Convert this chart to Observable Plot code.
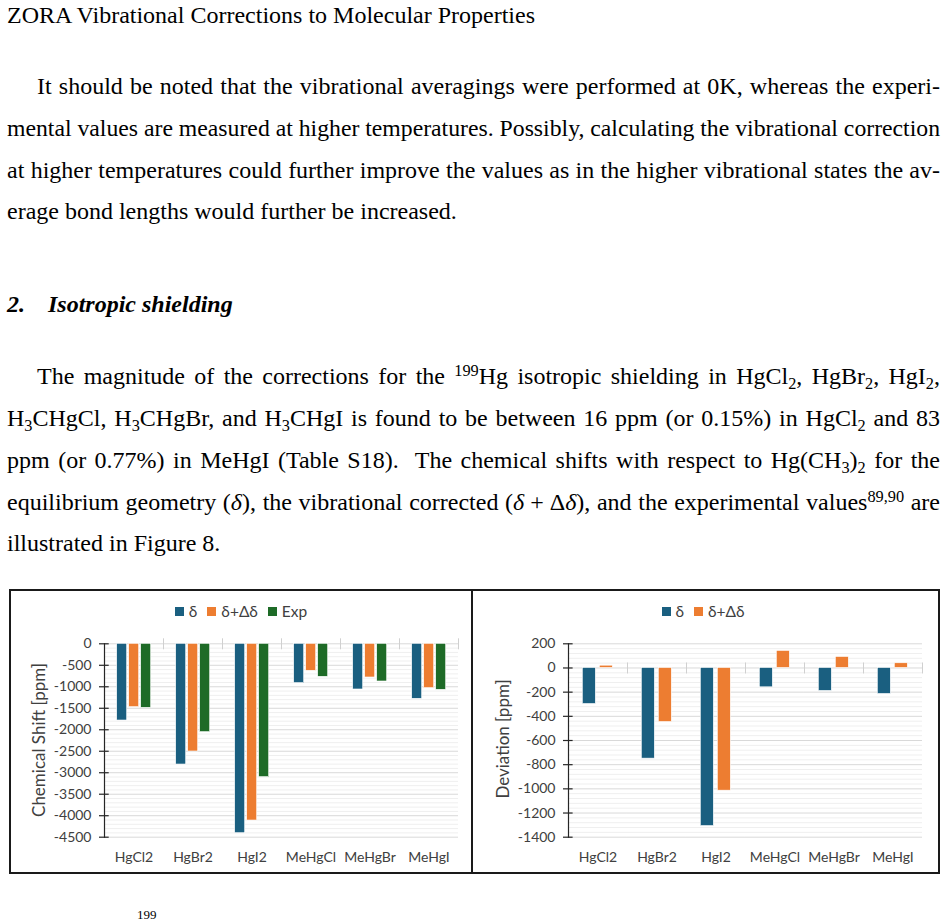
<!DOCTYPE html>
<html><head><meta charset="utf-8">
<script src="https://cdn.jsdelivr.net/npm/d3@7"></script>
<script src="https://cdn.jsdelivr.net/npm/@observablehq/plot@0.6"></script>
<style>
html,body{margin:0;padding:0;background:#fff;}
body{width:946px;height:924px;position:relative;overflow:hidden;font-family:"Liberation Serif","Times New Roman",serif;color:#000;}
.ln{position:absolute;font-size:24px;line-height:42px;white-space:nowrap;}
.ln .t{white-space:nowrap;}
sub,sup{font-size:0.68em;line-height:0;position:relative;vertical-align:baseline;}
sup{top:-0.5em;} sub{top:0.28em;}
.box{position:absolute;border:2px solid #1a1a1a;}
.div{position:absolute;background:#1a1a1a;}
.legend{position:absolute;display:flex;justify-content:center;align-items:center;font-family:Lato,"Open Sans",sans-serif;font-size:15.5px;color:#404040;}
.legend .sw{display:inline-block;width:9px;height:9px;margin-right:5px;}
.legend .it{display:flex;align-items:center;margin:0 5px;}
.ytitle{position:absolute;font-family:Lato,"Open Sans",sans-serif;font-size:17px;color:#404040;white-space:nowrap;transform:translate(-50%,-50%) rotate(-90deg);}
.chart{position:absolute;}
</style></head>
<body>
<div class="ln" style="left:7px;top:-6px;width:933px"><span class="t">ZORA Vibrational Corrections to Molecular Properties</span></div>

<div class="ln j" style="left:37px;top:65px;width:903px"><span class="t">It should be noted that the vibrational averagings were performed at 0K, whereas the experi-</span></div>
<div class="ln j" style="left:7px;top:107px;width:933px"><span class="t">mental values are measured at higher temperatures. Possibly, calculating the vibrational correction</span></div>
<div class="ln j" style="left:7px;top:149px;width:933px"><span class="t">at higher temperatures could further improve the values as in the higher vibrational states the av-</span></div>
<div class="ln" style="left:7px;top:190px;width:933px"><span class="t">erage bond lengths would further be increased.</span></div>

<div class="ln" style="left:7px;top:283px;width:933px;font-weight:bold;font-style:italic"><span class="t">2.</span></div>
<div class="ln" style="left:48px;top:283px;width:600px;font-weight:bold;font-style:italic"><span class="t">Isotropic shielding</span></div>

<div class="ln j" style="left:37px;top:355px;width:903px"><span class="t">The magnitude of the corrections for the <sup>199</sup>Hg isotropic shielding in HgCl<sub>2</sub>, HgBr<sub>2</sub>, HgI<sub>2</sub>,</span></div>
<div class="ln j" style="left:7px;top:397px;width:933px"><span class="t">H<sub>3</sub>CHgCl, H<sub>3</sub>CHgBr, and H<sub>3</sub>CHgI is found to be between 16 ppm (or 0.15%) in HgCl<sub>2</sub> and 83</span></div>
<div class="ln j" style="left:7px;top:439px;width:933px"><span class="t">ppm (or 0.77%) in MeHgI (Table S18).&#8196; The chemical shifts with respect to Hg(CH<sub>3</sub>)<sub>2</sub> for the</span></div>
<div class="ln j" style="left:7px;top:481px;width:933px"><span class="t">equilibrium geometry (<i>δ</i>), the vibrational corrected (<i>δ</i>&#8197;+&#8197;Δ<i>δ</i>), and the experimental values<sup>89,90</sup> are</span></div>
<div class="ln" style="left:7px;top:522px;width:933px"><span class="t">illustrated in Figure 8.</span></div>

<div class="box" style="left:9px;top:589px;width:927px;height:281px"></div>
<div class="div" style="left:471px;top:590px;width:2px;height:283px"></div>

<div id="legL" class="legend" style="left:10px;top:602px;width:462px;height:18px"></div>
<div id="legR" class="legend" style="left:472px;top:602px;width:462px;height:18px"></div>
<div class="ytitle" style="left:38px;top:740px">Chemical Shift [ppm]</div>
<div class="ytitle" style="left:502px;top:739px">Deviation [ppm]</div>
<div id="chartL" class="chart" style="left:10px;top:600px"></div>
<div id="chartR" class="chart" style="left:472px;top:600px"></div>

<div style="position:absolute;left:137px;top:908px;font-size:13px;line-height:14px">199</div>

<script>
// ---- data ----
const categories = ["HgCl2", "HgBr2", "HgI2", "MeHgCl", "MeHgBr", "MeHgI"];
const shiftSeries = ["δ", "δ+Δδ", "Exp"];
const devSeries = ["δ", "δ+Δδ"];
const shiftDelta = [-1785, -2809, -4407, -915, -1063, -1280];
const shiftCorrected = [-1474, -2506, -4112, -628, -784, -1032];
const shiftExp = [-1490, -2056, -3103, -768, -877, -1071];
const devDelta = [-298, -750, -1308, -160, -190, -215];
const devCorrected = [19, -447, -1015, 141, 91, 39];
const shiftTicks = [0, -500, -1000, -1500, -2000, -2500, -3000, -3500, -4000, -4500];
const devTicks = [200, 0, -200, -400, -600, -800, -1000, -1200, -1400];
const seriesColors = ["#1a5f80", "#ed7d31", "#1e6b27"];

// ---- justify text lines ----
for (const el of document.querySelectorAll(".ln.j")) {
  const sp = el.querySelector(".t");
  const avail = el.clientWidth;
  const w = sp.getBoundingClientRect().width;
  if (w <= avail) {
    const n = (sp.textContent.match(/ /g) || []).length;
    if (n) sp.style.wordSpacing = ((avail - w) / n) + "px";
  } else {
    sp.style.display = "inline-block";
    sp.style.transformOrigin = "0 0";
    sp.style.transform = `scaleX(${avail / w})`;
  }
}

// ---- legends ----
function legend(id, series) {
  const el = document.getElementById(id);
  series.forEach((s, i) => {
    const it = document.createElement("span");
    it.className = "it";
    it.innerHTML = `<span class="sw" style="background:${seriesColors[i]}"></span><span>${s}</span>`;
    el.appendChild(it);
  });
}
legend("legL", shiftSeries);
legend("legR", devSeries);

// ---- charts ----
const shiftData = categories.flatMap((c, i) => [
  {cat: c, series: shiftSeries[0], value: shiftDelta[i]},
  {cat: c, series: shiftSeries[1], value: shiftCorrected[i]},
  {cat: c, series: shiftSeries[2], value: shiftExp[i]}
]);
const devData = categories.flatMap((c, i) => [
  {cat: c, series: devSeries[0], value: devDelta[i]},
  {cat: c, series: devSeries[1], value: devCorrected[i]}
]);

function chart({data, series, ticks, minorStep, width, marginLeft, marginRight, paddingInner, paddingOuter}) {
  const height = 274, marginTop = 43.3, marginBottom = 37.3;
  const innerH = height - marginTop - marginBottom;
  const yDomain = [d3.min(ticks), d3.max(ticks)];
  const facetW = (width - marginLeft - marginRight) / categories.length;
  const zeroPx = (yDomain[1] - 0) / (yDomain[1] - yDomain[0]) * innerH;
  const minor = d3.range(yDomain[1], yDomain[0] - 1e-9, -minorStep).filter(v => !ticks.includes(v));
  return Plot.plot({
    width, height, marginLeft, marginRight, marginTop, marginBottom,
    style: {fontFamily: "Lato, 'Open Sans', sans-serif", fontSize: "14px", color: "#404040", background: "transparent", overflow: "visible"},
    fx: {domain: categories, padding: 0, label: null},
    x: {domain: series, axis: null, paddingInner, paddingOuter},
    y: {domain: yDomain, axis: null, label: null},
    color: {domain: series, range: seriesColors},
    marks: [
      Plot.ruleY(minor, {stroke: "#efefef", strokeWidth: 1}),
      Plot.ruleY(ticks, {stroke: "#d9d9d9", strokeWidth: 1}),
      Plot.frame({anchor: "right", stroke: "#d0d0d0", insetTop: zeroPx - 5, insetBottom: innerH - zeroPx - 5}),
      Plot.barY(data, {fx: "cat", x: "series", y: "value", fill: "series", stroke: "#ffffff", strokeWidth: 0.6}),
      Plot.frame({anchor: "left", facetAnchor: "left", stroke: "#262626", strokeWidth: 1.2}),
      Plot.ruleY(ticks, {facetAnchor: "left", stroke: "#262626", strokeWidth: 1.2, insetLeft: -5, insetRight: facetW - 5}),
      Plot.axisY({ticks, tickSize: 0, tickPadding: 13, tickFormat: d => String(d), anchor: "left", label: null}),
      Plot.axisFx({anchor: "bottom", tickSize: 0, tickPadding: 15, label: null})
    ]
  });
}

document.getElementById("chartL").appendChild(chart({
  data: shiftData, series: shiftSeries, ticks: shiftTicks, minorStep: 100,
  width: 462, marginLeft: 93.3, marginRight: 13, paddingInner: 0.208, paddingOuter: 0.885
}));
document.getElementById("chartR").appendChild(chart({
  data: devData, series: devSeries, ticks: devTicks, minorStep: 40,
  width: 468, marginLeft: 94.7, marginRight: 17, paddingInner: 0.231, paddingOuter: 0.832
}));
</script>
</body></html>
